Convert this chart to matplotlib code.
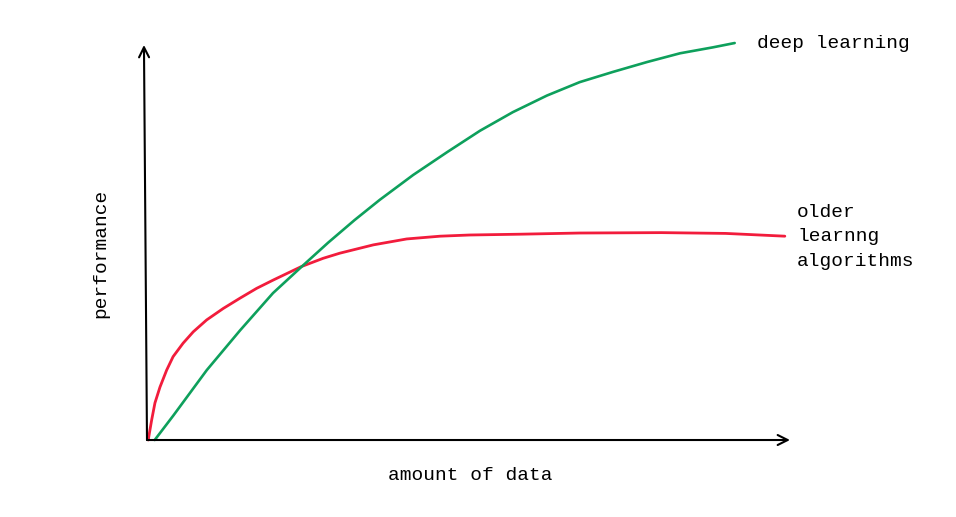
import numpy as np
import matplotlib.pyplot as plt

# values (amount of data vs performance, 0-100 scale)
deep_x = [1.2, 4.1, 9.3, 14.5, 19.6, 24.0, 28.2, 32.3, 36.2, 41.4, 46.7, 51.8, 56.9, 62.2, 67.3,
          72.5, 77.8, 82.9, 88.0, 91.4]
deep_y = [0.0, 6.2, 17.7, 27.8, 37.2, 43.8, 50.0, 55.7, 60.8, 67.1, 72.9, 78.3, 83.0, 87.2, 90.6,
          93.2, 95.7, 97.9, 99.4, 100.5]

old_x = [0.2, 0.36, 0.73, 1.24, 2.02, 3.06, 4.06, 5.61, 7.2, 9.28, 11.86, 14.46, 17.06, 19.64,
         24.0, 27.4, 30.0, 35.2, 40.4, 45.6, 50.2, 58.0, 67.3, 80.0, 90.0, 99.2]
old_y = [0.0, 1.6, 5.1, 9.4, 13.4, 17.7, 21.1, 24.5, 27.4, 30.4, 33.3, 35.9, 38.4, 40.5,
         43.9, 46.0, 47.3, 49.4, 50.9, 51.6, 51.9, 52.1, 52.4, 52.5, 52.3, 51.6]

GREEN = '#0ea05c'
RED = '#f21c3c'
FONT = 'Liberation Mono'

fig = plt.figure(figsize=(9.56, 5.17), dpi=100)
ax = fig.add_axes([0, 0, 1, 1])
ax.set_xlim(-22.86, 125.82)
ax.set_ylim(-19.49, 111.39)
ax.axis('off')

# hand-drawn style axes with open arrow heads
arrow = dict(arrowstyle='->', color='black', lw=1.5, mutation_scale=18, shrinkA=0, shrinkB=0)
ax.annotate('', xy=(100, 0), xytext=(0, 0), arrowprops=arrow)
ax.annotate('', xy=(-0.47, 100), xytext=(0, 0), arrowprops=arrow)

ax.plot(old_x, old_y, color=RED, lw=2.0, solid_capstyle='round', solid_joinstyle='round')
ax.plot(deep_x, deep_y, color=GREEN, lw=1.9, solid_capstyle='round', solid_joinstyle='round')

ax.text(94.9, 100.5, 'deep learning', family=FONT, fontsize=14, va='center', ha='left')
ax.text(101.1, 51.4, 'older\nlearnng\nalgorithms', family=FONT, fontsize=14,
        va='center', ha='left', linespacing=1.55)
ax.text(50.3, -9.1, 'amount of data', family=FONT, fontsize=14, va='center', ha='center')
ax.text(-7.2, 47.3, 'performance', family=FONT, fontsize=14, va='center', ha='center', rotation=90)

fig.savefig('out.png', dpi=100)
